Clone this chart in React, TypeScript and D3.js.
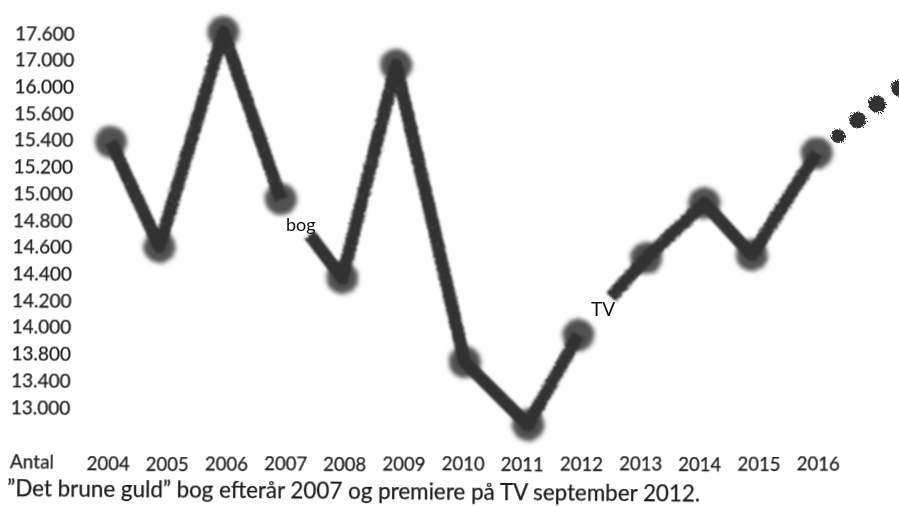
import React, { useEffect, useRef } from "react";
import * as d3 from "d3";

const yTicks = [17600, 17000, 16000, 15600, 15400, 15200, 15000, 14800, 14600, 14400, 14200, 14000, 13800, 13400, 13000];
const xYears = [2004, 2005, 2006, 2007, 2008, 2009, 2010, 2011, 2012, 2013, 2014, 2015, 2016];

// the hand drawn points do not sit exactly over their year label
const markYears = [2004.05, 2004.87, 2005.95, 2006.92, 2007.96, 2008.87, 2010.03, 2011.1, 2011.95, 2013.1, 2014.08, 2014.88, 2015.98];
const markValues = [15384, 14600, 17620, 14957, 14366, 16800, 13674, 12730, 13939, 14515, 14927, 14538, 15302];

const bogStart = [2007.41, 14688];
const tvStart = [2012.5, 14222];
const dotYears = [2016.34, 2016.67, 2017.0, 2017.38];
const dotValues = [15429, 15548, 15735, 15976];

const caption = "”Det brune guld” bog efterår 2007 og premiere på TV september 2012.";
const width = 899;
const height = 506;
const tilt = 0.66;
const font = "Lato, 'Open Sans', sans-serif";
const inkColor = "#1c1c1c";

export default function App() {
  const ref = useRef<SVGSVGElement>(null);

  useEffect(() => {
    const svg = d3.select(ref.current);
    svg.selectAll("*").remove();

    const tickPos = d3.scalePoint<number>().domain(yTicks).range([33, 407]);
    const y = d3.scaleLinear().domain(yTicks).range(yTicks.map((t) => tickPos(t) ?? 0));
    const x = d3.scaleLinear().domain([2004, 2016]).range([108, 818]);
    const fmt = (n: number) => d3.format(",")(n).replace(",", ".");

    const defs = svg.append("defs");
    // toner look: rough edge plus small holes, then a bit of blur
    const smudge = (id: string, blur: number, scale: number, holes: number) => {
      const f = defs.append("filter").attr("id", id)
        .attr("x", "-20%").attr("y", "-20%").attr("width", "140%").attr("height", "140%");
      f.append("feTurbulence").attr("type", "fractalNoise").attr("baseFrequency", 0.7)
        .attr("numOctaves", 2).attr("seed", 4).attr("result", "n");
      f.append("feColorMatrix").attr("in", "n").attr("type", "matrix")
        .attr("values", `0 0 0 0 0 0 0 0 0 0 0 0 0 0 0 ${holes} 0 0 0 ${1.6 - holes * 0.5}`)
        .attr("result", "holes");
      f.append("feDisplacementMap").attr("in", "SourceGraphic").attr("in2", "n")
        .attr("scale", scale).attr("result", "d");
      f.append("feComposite").attr("in", "d").attr("in2", "holes").attr("operator", "in").attr("result", "c");
      f.append("feGaussianBlur").attr("in", "c").attr("stdDeviation", blur);
    };
    smudge("ink", 1.3, 5, 3);
    smudge("blob", 2.2, 6, 2);
    smudge("dot", 0.6, 6, 2);
    defs.append("filter").attr("id", "scan")
      .append("feGaussianBlur").attr("stdDeviation", 0.35);

    svg.append("rect").attr("width", width).attr("height", height).attr("fill", "#fefefe");

    const line = d3.line<number[]>().x((d) => x(d[0])).y((d) => y(d[1]));
    const points = markYears.map((yr, i) => [yr, markValues[i]]);
    const runs = [
      points.slice(0, 4),
      [bogStart, ...points.slice(4, 9)],
      [tvStart, ...points.slice(9)],
    ];

    // blobs first, the line goes over them
    svg.append("g").attr("filter", "url(#blob)")
      .selectAll("circle").data(points).join("circle")
      .attr("cx", (d) => x(d[0])).attr("cy", (d) => y(d[1]))
      .attr("r", 16).attr("fill", "#424242").attr("opacity", 0.92);

    svg.append("g").attr("filter", "url(#ink)")
      .selectAll("path").data(runs).join("path")
      .attr("d", (d) => line(d)).attr("fill", "none")
      .attr("stroke", "#333").attr("stroke-width", 13)
      .attr("stroke-linejoin", "round");

    svg.append("g").attr("filter", "url(#dot)")
      .selectAll("circle").data(dotYears).join("circle")
      .attr("cx", (d) => x(d)).attr("cy", (_, i) => y(dotValues[i]))
      .attr("r", (_, i) => (i === 0 ? 7 : 8.5)).attr("fill", "#333");

    const text = svg.append("g")
      .attr("transform", `rotate(${tilt})`)
      .attr("filter", "url(#scan)")
      .attr("font-family", font).attr("fill", inkColor)
      .attr("stroke", inkColor).attr("stroke-width", 0.25);

    text.append("g").attr("font-size", 19)
      .selectAll("text").data(yTicks).join("text")
      .attr("x", 15.4).attr("y", (d) => (tickPos(d) ?? 0) + 6.5)
      .text(fmt);

    text.append("g").attr("font-size", 18.5).attr("text-anchor", "middle")
      .selectAll("text").data(xYears).join("text")
      .attr("x", (d) => x(d) + 5.4).attr("y", (d) => 470.6 - x(d) * 0.0115)
      .text(String);

    text.append("text").attr("x", 15.3).attr("y", 468).attr("font-size", 19).text("Antal");

    svg.append("text").attr("transform", "rotate(0.45)")
      .attr("filter", "url(#scan)").attr("font-family", font).attr("fill", inkColor)
      .attr("stroke", inkColor).attr("stroke-width", 0.25)
      .attr("x", 11).attr("y", 496).attr("font-size", 22.4).text(caption);

    const notes = svg.append("g").attr("font-family", font).attr("fill", "#111").attr("filter", "url(#scan)");
    notes.append("text").attr("x", 286).attr("y", 231).attr("font-size", 18).text("bog");
    notes.append("text").attr("x", 591).attr("y", 316).attr("font-size", 19).text("TV");
  }, []);

  return (
    <svg ref={ref} width={width} height={height}
      style={{ position: "fixed", left: 0, top: 0, display: "block" }} />
  );
}
